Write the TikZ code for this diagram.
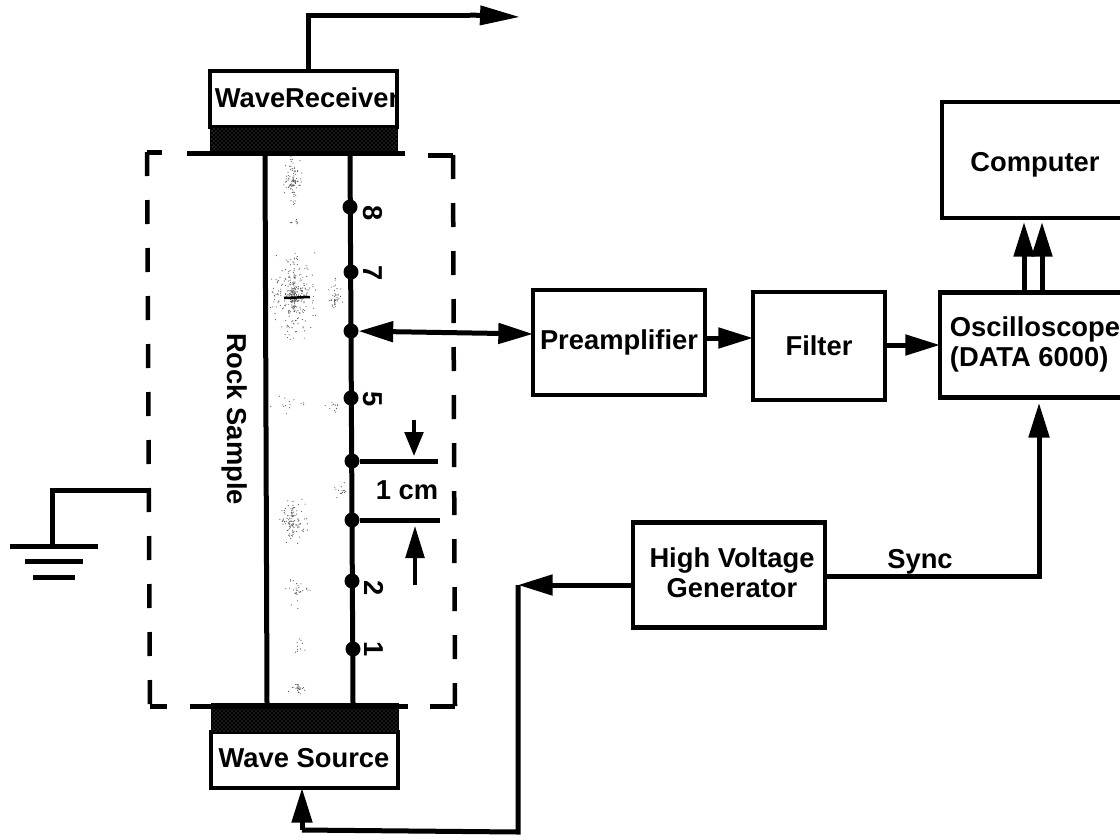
\documentclass[tikz,border=0pt]{standalone}
\usepackage{fontspec}
\setmainfont{Liberation Sans}
\usetikzlibrary{arrows.meta,patterns}
\tikzset{
  x=0.75pt,y=-0.75pt,
  px/.style={line width=#1*0.75pt},
  lbl/.style={font=\fontsize{20.5}{22.5}\bfseries\selectfont,inner sep=0pt,outer sep=0pt,text=black},
  blk/.style 2 args={draw=black,fill=white,px=4.5,inner sep=0pt,outer sep=0pt,minimum width=#1*0.75pt,minimum height=#2*0.75pt,align=center,font=\fontsize{20.5}{22.5}\bfseries\selectfont},
  band/.style 2 args={draw=black,px=1,inner sep=0pt,outer sep=0pt,minimum width=#1*0.75pt,minimum height=#2*0.75pt,preaction={fill=black},pattern=crosshatch dots,pattern color=black!55},
  elec/.style={circle,fill=black,inner sep=0pt,outer sep=0pt,minimum size=15*0.75pt},
  wire/.style={draw=black,px=5},
  thin wire/.style={draw=black,px=3.5},
  dashline/.style={draw=black,px=4.5,dash pattern=on 18pt off 18pt},
  arr/.style={wire,-{Triangle[length=26pt,width=15pt]}},
  arrs/.style={wire,{Triangle[length=26pt,width=15pt]}-{Triangle[length=26pt,width=15pt]}},
  speck/.style={fill=black!65},
}
\begin{document}
\begin{tikzpicture}
\useasboundingbox (0,0) rectangle (1120,839);
\clip (0,0) rectangle (1120,839);
% speckle in the rock
\pgfmathsetseed{4242}
\foreach \cx/\cy/\rx/\ry/\n in {293/180/12/30/90,293/222/8/6/8,294/295/24/50/320,335/300/10/22/40,293/522/18/28/110,297/590/14/24/30,298/650/8/18/10,298/688/10/8/30,290/405/22/18/14,335/405/12/12/12,340/490/12/12/14}{
  \foreach \k in {1,...,\n}{
    \pgfmathsetmacro{\ax}{\cx+\rx*rand*abs(rand)}
    \pgfmathsetmacro{\ay}{\cy+\ry*rand*abs(rand)}
    \fill[speck] (\ax,\ay) circle[radius=0.6];
  }
}
\draw[black,px=2.5] (284,298) -- (310,297);
% wave receiver
\node[blk={187}{56},anchor=north west] (recv) at (210,71) {};
\node[lbl] (recvt) at (307,98) {WaveReceiver};
\node[band={187}{26},anchor=north west] (recvb) at (210,127) {};
\coordinate (rtl) at (187,153); \coordinate (rtr) at (405,153);
\draw[wire] (rtl) -- (rtr);
% wave source
\node[blk={187}{56},anchor=north west] (src) at (211,732) {};
\node[lbl] (srct) at (304,758) {Wave Source};
\node[band={187}{29},anchor=north west] (srcb) at (211,703) {};
\coordinate (rbl) at (190,706); \coordinate (rbr) at (408,706);
\draw[wire] (rbl) -- (rbr);
% rock sample
\coordinate (lt) at (265,153); \coordinate (lb) at (267,703);
\coordinate (et) at (350,153); \coordinate (eb) at (353,703);
\draw[wire] (lt) -- (lb);
\draw[wire] (et) -- (eb);
\node[lbl,rotate=-90] (rock) at (235,419) {Rock Sample};
\node[elec] (e8) at (350,207) {};
\node[elec] (e7) at (351,272) {};
\node[elec] (e6) at (351,331) {};
\node[elec] (e5) at (351,398) {};
\node[elec] (e4) at (352,461) {};
\node[elec] (e3) at (352,520) {};
\node[elec] (e2) at (352,581) {};
\node[elec] (e1) at (353,649) {};
\node[lbl,rotate=-90] (n8) at (373,213) {8};
\node[lbl,rotate=-90] (n7) at (373,273) {7};
\node[lbl,rotate=-90] (n5) at (373,399) {5};
\node[lbl,rotate=-90] (n2) at (374,588) {2};
\node[lbl,rotate=-90] (n1) at (374,649) {1};
% 1 cm marker
\coordinate (m1) at (438,461); \coordinate (m2) at (440,520);
\draw[wire] (e4) -- (m1);
\draw[wire] (e3) -- (m2);
\node[lbl] (cm) at (407,490) {1 cm};
\coordinate (a1s) at (414,420); \coordinate (a1e) at (414,456);
\coordinate (a2s) at (415,585); \coordinate (a2e) at (415,526);
\draw[thin wire,-{Triangle[length=18pt,width=14pt]}] (a1s) -- (a1e);
\draw[thin wire,-{Triangle[length=24pt,width=14pt]}] (a2s) -- (a2e);
% dashed enclosure
\coordinate (dlt) at (147,152); \coordinate (dlb) at (150,706);
\coordinate (drt) at (453,155); \coordinate (drb) at (455,706);
\draw[dashline] (dlt) -- (dlb);
\draw[dashline] (drt) -- (drb);
\draw[wire] (dlt) -- ++(15,0);
\draw[wire] (drt) -- ++(-25,0);
\draw[wire] (dlb) -- ++(17,0);
\draw[wire] (drb) -- ++(-25,0);
% ground
\coordinate (g0) at (150,490); \coordinate (g1) at (52,490); \coordinate (g2) at (52,546);
\draw[wire] (g0) -- (g1) -- (g2);
\coordinate (ga) at (10,546); \coordinate (gb) at (98,546);
\coordinate (gc) at (25,561); \coordinate (gd) at (83,561);
\coordinate (ge) at (33,577); \coordinate (gf) at (75,577);
\draw[wire] (ga) -- (gb);
\draw[wire] (gc) -- (gd);
\draw[wire] (ge) -- (gf);
% signal chain
\node[blk={172}{105}] (pre) at (619,342.5) {Preamplifier};
\node[blk={132}{108}] (filt) at (819,346) {Filter};
\node[blk={190}{105}] (scope) at (1035,345) {\begin{tabular}{@{}l@{}}Oscilloscope\\(DATA 6000)\end{tabular}};
\node[blk={186}{116}] (comp) at (1035,160) {};
\node[lbl] (compt) at (1035,165) {Computer};
\node[blk={192}{105}] (hv) at (729,575) {};
\node[lbl,align=center] (hvt) at (732,573) {High Voltage\\Generator};
% connectors
\coordinate (out0) at (308,71); \coordinate (out1) at (308,15); \coordinate (out2) at (520,17);
\draw[wire] (out0) -- (out1) -- (470,15);
\draw[wire,-{Triangle[length=30pt,width=14pt]}] (470,15) -- (out2);
\draw[arrs] (e6) -- (pre.west |- 0,334);
\draw[arr] (pre.east |- 0,338) -- (filt.west |- 0,338);
\draw[arr] (filt.east |- 0,345) -- (scope.west |- 0,345);
\draw[arr] (1024,292) -- (1024,222);
\draw[arr] (1042,292) -- (1042,222);
\coordinate (sy) at (1039,576);
\draw[arr,shorten >=4pt] (hv.east |- sy) -- (sy) -- (sy |- scope.south);
\node[lbl] (sync) at (920,562) {Sync};
\coordinate (c1) at (518,585); \coordinate (c2) at (518,832); \coordinate (c3) at (302,830);
\draw[arr] (hv.west |- c1) -- (c1);
\draw[wire] (c1) -- (c2) -- (c3);
\draw[arr] (c3) -- (src.south -| c3);
\end{tikzpicture}
\end{document}
